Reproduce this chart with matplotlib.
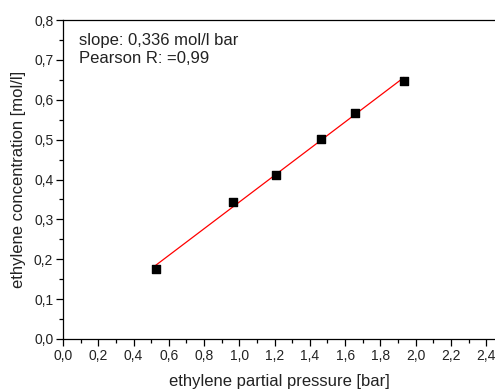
import numpy as np
import matplotlib
matplotlib.use("Agg")
import matplotlib.pyplot as plt
from matplotlib.ticker import MultipleLocator, FuncFormatter

plt.rcParams['font.family'] = ['Liberation Sans', 'DejaVu Sans']

# partial pressure [bar] and concentration [mol/l]
pressure = [0.526, 0.965, 1.207, 1.462, 1.657, 1.933]
conc = [0.176, 0.3425, 0.4125, 0.5005, 0.5675, 0.6475]

slope, icpt = np.polyfit(pressure, conc, 1)
xfit = np.array([min(pressure), max(pressure)])

fig = plt.figure(figsize=(4.95, 3.89), dpi=100)
ax = fig.add_axes([63/495, 50/389, 432/495, 319/389])

ax.plot(xfit, slope*xfit + icpt, color='red', lw=0.9, zorder=2)
ax.scatter(pressure, conc, marker='s', s=32, color='black', zorder=3)

ax.set_xlim(0, 2.45)
ax.set_ylim(0, 0.8)
ax.xaxis.set_major_locator(MultipleLocator(0.2))
ax.xaxis.set_minor_locator(MultipleLocator(0.1))
ax.yaxis.set_major_locator(MultipleLocator(0.1))
ax.yaxis.set_minor_locator(MultipleLocator(0.05))
comma = FuncFormatter(lambda v, p: ('%.1f' % v).replace('.', ','))
ax.xaxis.set_major_formatter(comma)
ax.yaxis.set_major_formatter(comma)
ax.tick_params(which='major', direction='out', length=5, width=0.9, labelsize=10, pad=2,
               labelcolor='#222222')
ax.tick_params(which='minor', direction='out', length=3, width=0.9)
ax.spines['right'].set_visible(False)
for s in ['left', 'bottom', 'top']:
    ax.spines[s].set_linewidth(0.9)

ax.set_xlabel('ethylene partial pressure [bar]', fontsize=12, labelpad=8, color='#222222')
ax.set_ylabel('ethylene concentration [mol/l]', fontsize=12, labelpad=6, color='#222222')

ax.text(0.036, 0.96, 'slope: 0,336 mol/l bar\nPearson R: =0,99', transform=ax.transAxes,
        fontsize=12, va='top', ha='left', linespacing=1.25, color='#222222')

fig.savefig('out.png', dpi=100)
